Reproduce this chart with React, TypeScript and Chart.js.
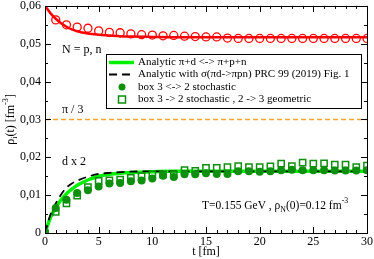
import React, { useEffect, useRef } from 'react';
import { Chart, registerables } from 'chart.js';
Chart.register(...registerables);

const FONT = '"Liberation Serif", "Times New Roman", serif';

// Analytic curves
const lineT = [0, 0.5, 1, 1.5, 2, 2.5, 3, 4, 5, 6, 7, 8, 10, 12, 15, 20, 25, 30];
const redLine = [0.06, 0.0581, 0.0566, 0.0554, 0.0545, 0.0538, 0.0533, 0.0527, 0.0524, 0.0522, 0.052, 0.0519, 0.0518, 0.0517, 0.0517, 0.0517, 0.0517, 0.0517];
const greenLine = [0, 0.004, 0.0067, 0.0088, 0.0104, 0.0116, 0.0126, 0.014, 0.0150, 0.0155, 0.0158, 0.016, 0.0162, 0.0163, 0.0163, 0.0163, 0.0163, 0.0163];
const blackLine = [0, 0.0048, 0.0078, 0.0102, 0.012, 0.0131, 0.0138, 0.0149, 0.0156, 0.0159, 0.0161, 0.0162, 0.0163, 0.0163, 0.0163, 0.0163, 0.0163, 0.0163];

// Box simulation points
const redT = [1, 2, 3, 4, 5, 6, 7, 8, 9, 10, 11, 12, 13, 14, 15, 16, 17, 18, 19, 20, 21, 22, 23, 24, 25, 26, 27, 28, 29, 30];
const redCircles = [0.0563, 0.055, 0.0544, 0.0541, 0.0534, 0.053, 0.0529, 0.0526, 0.0524, 0.0523, 0.0521, 0.0522, 0.052, 0.0519, 0.0518, 0.0518, 0.0515, 0.0514, 0.0514, 0.0514, 0.0514, 0.0514, 0.0514, 0.0514, 0.0514, 0.0514, 0.0514, 0.0514, 0.0514, 0.0514];
const boxT = [0, 1, 2, 3, 4, 5, 6, 7, 8, 9, 10, 11, 12, 13, 14, 15, 16, 17, 18, 19, 20, 21, 22, 23, 24, 25, 26, 27, 28, 29, 30];
const stochastic = [0, 0.0066, 0.0088, 0.0106, 0.0113, 0.0123, 0.0131, 0.0132, 0.0137, 0.0139, 0.0144, 0.0151, 0.0148, 0.0155, 0.0155, 0.0158, 0.0156, 0.0156, 0.0163, 0.0163, 0.0162, 0.0163, 0.0166, 0.0167, 0.0166, 0.0166, 0.0166, 0.0165, 0.0165, 0.0165, 0.0166];
const geometric = [0, 0.0056, 0.0078, 0.0099, 0.0121, 0.0138, 0.0139, 0.0141, 0.0146, 0.015, 0.0155, 0.0155, 0.0155, 0.0166, 0.0164, 0.0172, 0.0172, 0.0174, 0.0177, 0.0174, 0.0174, 0.0176, 0.0183, 0.0177, 0.0186, 0.0183, 0.0184, 0.0181, 0.0181, 0.0174, 0.0178];

const piThirdLevel = 0.03;
const xTickStep = 5;
const xMinorStep = 1;
const yTickStep = 0.01;
const yMinorStep = 0.005;

const legendLabels = [
  'Analytic \u03c0+d <-> \u03c0+p+n',
  'Analytic with \u03c3(\u03c0d->\u03c0pn) PRC 99 (2019) Fig. 1',
  'box 3 <-> 2 stochastic',
  'box 3 -> 2 stochastic , 2 -> 3 geometric',
];

const RED = '#ff0000';
const LGREEN = '#00f000';
const DGREEN = '#0e8f0e';
const ORANGE = '#f3a530';

function pts(xs: number[], ys: number[]) {
  return xs.map((x, i) => ({ x, y: ys[i] }));
}

type Seg = { t: string; m?: 'sub' | 'sup' };
function richWidth(ctx: CanvasRenderingContext2D, segs: Seg[], size: number) {
  let w = 0;
  for (const s of segs) {
    ctx.font = `${s.m ? size * 0.68 : size}px ${FONT}`;
    w += ctx.measureText(s.t).width;
  }
  return w;
}
function drawRich(ctx: CanvasRenderingContext2D, segs: Seg[], x: number, y: number, size: number, align: 'left' | 'center') {
  const w = richWidth(ctx, segs, size);
  let cx = align === 'center' ? x - w / 2 : x;
  ctx.textAlign = 'left';
  ctx.textBaseline = 'middle';
  ctx.fillStyle = '#000';
  for (const s of segs) {
    const sz = s.m ? size * 0.68 : size;
    ctx.font = `${sz}px ${FONT}`;
    const dy = s.m === 'sub' ? size * 0.3 : s.m === 'sup' ? -size * 0.4 : 0;
    ctx.fillText(s.t, cx, y + dy);
    cx += ctx.measureText(s.t).width;
  }
}

const decorPlugin = {
  id: 'decor',
  beforeDatasetsDraw(chart: any) {
    const { ctx, chartArea: a, scales } = chart;
    const y = Math.round(scales.y.getPixelForValue(piThirdLevel)) + 0.5;
    ctx.save();
    ctx.strokeStyle = ORANGE;
    ctx.lineWidth = 1.5;
    ctx.setLineDash([5, 3]);
    ctx.beginPath();
    ctx.moveTo(a.left, y);
    ctx.lineTo(a.right, y);
    ctx.stroke();
    ctx.restore();
  },
  afterDatasetsDraw(chart: any) {
    const { ctx, chartArea: a, scales } = chart;
    const xs = scales.x;
    const ys = scales.y;
    ctx.save();
    ctx.strokeStyle = '#000';
    ctx.lineWidth = 1;
    ctx.setLineDash([]);
    ctx.strokeRect(Math.round(a.left) + 0.5, Math.round(a.top) + 0.5, Math.round(a.right - a.left), Math.round(a.bottom - a.top));
    // ticks
    ctx.beginPath();
    for (let v = xs.min; v <= xs.max + 1e-9; v += xMinorStep) {
      const major = Math.abs(v / xTickStep - Math.round(v / xTickStep)) < 1e-6;
      const len = major ? 6 : 3;
      const px = Math.round(xs.getPixelForValue(v)) + 0.5;
      ctx.moveTo(px, a.bottom);
      ctx.lineTo(px, a.bottom - len);
      ctx.moveTo(px, a.top);
      ctx.lineTo(px, a.top + len);
    }
    for (let v = ys.min; v <= ys.max + 1e-9; v += yMinorStep) {
      const major = Math.abs(v / yTickStep - Math.round(v / yTickStep)) < 1e-6;
      const len = major ? 6 : 3;
      const py = Math.round(ys.getPixelForValue(v)) + 0.5;
      ctx.moveTo(a.left, py);
      ctx.lineTo(a.left + len, py);
      ctx.moveTo(a.right, py);
      ctx.lineTo(a.right - len, py);
    }
    ctx.stroke();

    // annotations
    drawRich(ctx, [{ t: 'N = p, n' }], 62, 50, 12, 'left');
    drawRich(ctx, [{ t: '\u03c0 / 3' }], 62, 110, 12, 'left');
    drawRich(ctx, [{ t: 'd x 2' }], 62, 161.5, 12, 'left');
    drawRich(ctx, [{ t: 'T=0.155 GeV , \u03c1' }, { t: 'N', m: 'sub' }, { t: '(0)=0.12 fm' }, { t: '-3', m: 'sup' }], 202, 206, 11.5, 'left');

    // x title
    drawRich(ctx, [{ t: 't [fm]' }], (a.left + a.right) / 2, 252, 12, 'center');
    // y title (rotated)
    ctx.save();
    ctx.translate(11, (a.top + a.bottom) / 2);
    ctx.rotate(-Math.PI / 2);
    drawRich(ctx, [{ t: '\u03c1' }, { t: 'i', m: 'sub' }, { t: '(t) [fm' }, { t: '-3', m: 'sup' }, { t: ']' }], 0, 0, 12, 'center');
    ctx.restore();

    // legend
    const bx = 106.5, by = 54.5, bw = 255, bh = 54;
    ctx.fillStyle = '#fff';
    ctx.fillRect(bx, by, bw, bh);
    ctx.strokeStyle = '#000';
    ctx.lineWidth = 1;
    ctx.strokeRect(bx, by, bw, bh);
    const rows = [62.5, 74.5, 87, 99.5];
    const ds = chart.data.datasets;
    ctx.strokeStyle = ds[2].borderColor;
    ctx.lineWidth = ds[2].borderWidth;
    ctx.beginPath();
    ctx.moveTo(109, rows[0]);
    ctx.lineTo(134, rows[0]);
    ctx.stroke();
    ctx.strokeStyle = ds[3].borderColor;
    ctx.lineWidth = ds[3].borderWidth;
    ctx.setLineDash(ds[3].borderDash);
    ctx.beginPath();
    ctx.moveTo(109, rows[1]);
    ctx.lineTo(134, rows[1]);
    ctx.stroke();
    ctx.setLineDash([]);
    ctx.fillStyle = DGREEN;
    ctx.beginPath();
    ctx.arc(122, rows[2], 3.5, 0, Math.PI * 2);
    ctx.fill();
    ctx.strokeStyle = DGREEN;
    ctx.lineWidth = 1.5;
    ctx.strokeRect(118.5, rows[3] - 3.5, 7, 7);
    ctx.fillStyle = '#000';
    ctx.font = `11px ${FONT}`;
    ctx.textBaseline = 'middle';
    ctx.textAlign = 'left';
    legendLabels.forEach((l, i) => ctx.fillText(l, 138, rows[i]));
    ctx.restore();
  },
};

export default function App() {
  const ref = useRef<HTMLCanvasElement | null>(null);
  useEffect(() => {
    document.body.style.margin = '0';
    const canvas = ref.current;
    if (!canvas) return;
    const chart = new Chart(canvas, {
      type: 'scatter',
      data: {
        datasets: [
          { label: 'red analytic', data: pts(lineT, redLine), showLine: true, borderColor: RED, borderWidth: 2.5, pointRadius: 0, tension: 0.4, cubicInterpolationMode: 'monotone', order: 8 } as any,
          { label: 'red box', data: pts(redT, redCircles), showLine: false, pointStyle: 'circle', pointRadius: 4, pointBorderWidth: 1.3, borderColor: RED, backgroundColor: 'rgba(0,0,0,0)', order: 7 } as any,
          { label: legendLabels[0], data: pts(lineT, greenLine), showLine: true, borderColor: LGREEN, borderWidth: 3.5, pointRadius: 0, tension: 0.4, cubicInterpolationMode: 'monotone', order: 10 } as any,
          { label: legendLabels[1], data: pts(lineT, blackLine), showLine: true, borderColor: '#000', borderWidth: 1.8, borderDash: [8, 5], pointRadius: 0, tension: 0.4, cubicInterpolationMode: 'monotone', order: 9 } as any,
          { label: legendLabels[2], data: pts(boxT, stochastic), showLine: false, pointStyle: 'circle', pointRadius: 4, pointBorderWidth: 0, borderColor: DGREEN, backgroundColor: DGREEN, order: 5 } as any,
          { label: legendLabels[3], data: pts(boxT, geometric), showLine: false, pointStyle: 'rect', pointRadius: 4.4, pointBorderWidth: 1.5, borderColor: DGREEN, backgroundColor: 'rgba(0,0,0,0)', order: 6 } as any,
        ],
      },
      options: {
        animation: false,
        responsive: false,
        maintainAspectRatio: false,
        layout: { padding: { top: 4, right: 7, left: 0, bottom: 0 } },
        plugins: { legend: { display: false }, tooltip: { enabled: false } },
        scales: {
          x: {
            type: 'linear', min: 0, max: 30,
            grid: { display: false, drawTicks: false }, border: { display: false },
            ticks: { stepSize: xTickStep, color: '#000', font: { family: FONT, size: 12 }, padding: 2, maxRotation: 0 },
            afterFit: (s: any) => { s.height = 26; s.paddingLeft = 0; s.paddingRight = 0; },
          },
          y: {
            type: 'linear', min: 0, max: 0.06,
            grid: { display: false, drawTicks: false }, border: { display: false },
            ticks: {
              stepSize: yTickStep, color: '#000', font: { family: FONT, size: 12 }, padding: 4,
              callback: (v: any) => (Math.abs(v) < 1e-9 ? '0' : Number(v).toFixed(2).replace('.', ',')),
            },
            afterFit: (s: any) => { s.width = 45; s.paddingTop = 0; s.paddingBottom = 0; },
          },
        },
      } as any,
      plugins: [decorPlugin],
    });
    return () => chart.destroy();
  }, []);
  return (
    <div style={{ position: 'fixed', left: 0, top: 0, width: 374, height: 259 }}>
      <canvas ref={ref} width={374} height={259} style={{ width: 374, height: 259, display: 'block' }} />
    </div>
  );
}
